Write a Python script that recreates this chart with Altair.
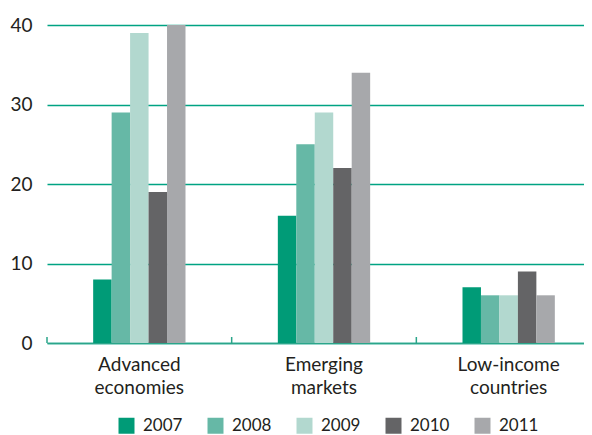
import altair as alt
import pandas as pd

regions = ["Advanced economies", "Emerging markets", "Low-income countries"]
years = ["2007", "2008", "2009", "2010", "2011"]
v2007 = [8, 16, 7]
v2008 = [29, 25, 6]
v2009 = [39, 29, 6]
v2010 = [19, 22, 9]
v2011 = [40, 34, 6]
colors = ["#009B77", "#66B8A6", "#B2D8CF", "#646466", "#A7A8AB"]
boundaries = [0, 1, 2, 3]

rows = []
for yr, vals in zip(years, [v2007, v2008, v2009, v2010, v2011]):
    for r, v in zip(regions, vals):
        rows.append({"region": r, "year": yr, "value": v})
df = pd.DataFrame(rows)
df_b = pd.DataFrame({"b": boundaries})

W, H = 537, 318
XR = 554
TEAL = "#00A383"
TXT = "#231F20"
FONT = "Lato"

bars = alt.Chart(df).mark_bar().encode(
    x=alt.X("region:N", sort=regions,
            scale=alt.Scale(paddingInner=0.5, paddingOuter=0.25, range=[0, XR]),
            axis=alt.Axis(title=None, labelAngle=0, labelExpr="split(datum.label, ' ')",
                          ticks=False, domainColor="#2BA58A", domainWidth=1.5,
                          labelFontSize=19, labelPadding=12, labelLineHeight=23,
                          labelColor=TXT, labelFont=FONT)),
    xOffset=alt.XOffset("year:N", sort=years,
                        scale=alt.Scale(paddingInner=0, paddingOuter=0)),
    y=alt.Y("value:Q", scale=alt.Scale(domain=[0, 40], nice=False),
            axis=alt.Axis(title=None, values=[0, 10, 20, 30, 40], domain=False, ticks=False,
                          gridColor=TEAL, gridWidth=1.5, labelPadding=15, labelFontSize=19,
                          labelColor=TXT, labelFont=FONT)),
    color=alt.Color("year:N", sort=years,
                    scale=alt.Scale(domain=years, range=colors),
                    legend=alt.Legend(title=None, orient="none", legendX=71, legendY=392,
                                      direction="horizontal", symbolType="square",
                                      symbolSize=256, symbolStrokeWidth=0,
                                      labelFontSize=17, labelFont=FONT, labelColor=TXT,
                                      labelOffset=8, columnPadding=24, padding=0)),
)

ticks = alt.Chart(df_b).mark_rule(color="#2BA58A", strokeWidth=1.5).encode(
    x=alt.X("b:Q", scale=alt.Scale(domain=[0, 3], nice=False, zero=False, range=[0, XR]),
            axis=None),
    y=alt.value(H),
    y2=alt.value(H - 6),
)

chart = alt.layer(bars, ticks).resolve_scale(x="independent").properties(
    width=W, height=H,
    autosize=alt.AutoSizeParams(type="none"),
    padding={"left": 39, "top": 17, "right": 0, "bottom": 92},
).configure_view(stroke=None)

chart.save("out.html", embed_options={"renderer": "svg", "actions": False})
